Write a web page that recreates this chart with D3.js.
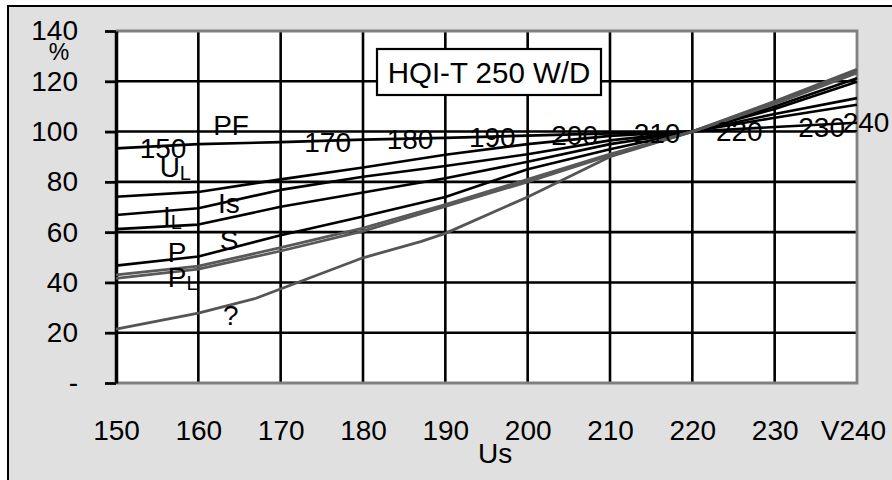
<!DOCTYPE html>
<html>
<head>
<meta charset="utf-8">
<script src="https://cdn.jsdelivr.net/npm/d3@7"></script>
<style>
    body { margin: 0; background: #fff; }
    svg text { font-family: "Liberation Sans", Arial, sans-serif; fill: #000; }
</style>
</head>
<body>
<div id="chart"></div>
<script>
// supply voltage (V) and relative values (%)
const voltages = [150, 160, 170, 180, 190, 200, 210, 220, 230, 240];
const pf = [93.3, 95.0, 95.8, 96.8, 97.5, 98.4, 99.3, 100, 101.8, 103.5];
const uL = [74.1, 76.0, 81.0, 85.7, 90.8, 95.0, 98.3, 100, 105.5, 110.7];
const iS = [66.8, 69.5, 76.8, 82.0, 86.3, 91.0, 96.5, 100, 107.0, 113.3];
const iL = [61.2, 63.0, 70.1, 75.8, 81.4, 88.0, 95.0, 100, 109.0, 119.8];
const sPow = [46.7, 50.3, 58.8, 66.2, 74.0, 85.0, 93.0, 100, 110.0, 121.2];
const pPow = [43.0, 46.5, 53.8, 61.6, 71.0, 81.0, 91.0, 100, 111.5, 124.0];
const pL = [41.6, 45.3, 52.5, 60.4, 70.2, 80.0, 90.5, 100, 111.0, 123.3];
const fluxVoltages = [150, 160, 167, 180, 187, 190, 200, 210, 220, 230, 240];
const flux = [21.4, 27.8, 33.7, 49.8, 56.2, 59.5, 74.0, 90.0, 100, 112.0, 124.8];

const pfLabelVoltages = [150, 170, 180, 190, 200, 210, 220, 230, 240];

const yTicks = [0, 20, 40, 60, 80, 100, 120, 140];
const yTickLabels = ["-", "20", "40", "60", "80", "100", "120", "140"];
const xTickLabels = ["150", "160", "170", "180", "190", "200", "210", "220", "230", "V240"];

// series label anchors, in chart units (V, %)
const seriesLabels = [
    { text: "PF", sub: "", v: 161.8, p: 98.6 },
    { text: "U", sub: "L", v: 155.3, p: 82.0 },
    { text: "Is", sub: "", v: 162.4, p: 67.6 },
    { text: "I", sub: "L", v: 155.7, p: 62.6 },
    { text: "S", sub: "", v: 162.6, p: 52.9 },
    { text: "P", sub: "", v: 156.3, p: 48.1 },
    { text: "P", sub: "L", v: 156.3, p: 38.2 },
    { text: "?", sub: "", v: 163.0, p: 23.1 }
];

const width = 892;
const height = 480;
const plot = { left: 116, right: 857, top: 31, bottom: 383 };

const svg = d3.select("#chart")
    .append("svg")
        .attr("width", width)
        .attr("height", height);

// chart area
svg.append("rect")
    .attr("x", 8).attr("y", 6)
    .attr("width", 900).attr("height", 490)
    .attr("fill", "#e0e0e0")
    .attr("stroke", "#000")
    .attr("stroke-width", 2);

const x = d3.scaleLinear().domain([150, 240]).range([plot.left, plot.right]);
const y = d3.scaleLinear().domain([0, 140]).range([plot.bottom, plot.top]);

svg.append("rect")
    .attr("x", plot.left).attr("y", plot.top)
    .attr("width", plot.right - plot.left)
    .attr("height", plot.bottom - plot.top)
    .attr("fill", "#fff");

// gridlines
const grid = svg.append("g");
grid.selectAll(".hgrid")
    .data(yTicks.slice(1, -1))
    .enter().append("line")
        .attr("x1", plot.left).attr("x2", plot.right)
        .attr("y1", d => y(d)).attr("y2", d => y(d))
        .attr("stroke", "#000")
        .attr("stroke-width", 2.6);

grid.selectAll(".vgrid")
    .data(voltages.slice(1, -1))
    .enter().append("line")
        .attr("x1", d => x(d)).attr("x2", d => x(d))
        .attr("y1", plot.top).attr("y2", plot.bottom)
        .attr("stroke", "#000")
        .attr("stroke-width", 2.6);

// plot border (top, right, bottom)
svg.append("path")
    .attr("d", `M${plot.left},${plot.top}H${plot.right}V${plot.bottom}H${plot.left}`)
    .attr("fill", "none")
    .attr("stroke", "#808080")
    .attr("stroke-width", 2.8);

// y axis
const yAxis = svg.append("g")
    .attr("transform", `translate(${plot.left},0)`)
    .call(d3.axisLeft(y)
        .tickValues(yTicks)
        .tickFormat((d, i) => yTickLabels[i])
        .tickSizeInner(11)
        .tickSizeOuter(0)
        .tickPadding(27));
yAxis.select(".domain").attr("stroke", "#000").attr("stroke-width", 3.5);
yAxis.selectAll(".tick line").attr("stroke", "#000").attr("stroke-width", 2.8);
yAxis.selectAll(".tick text")
    .attr("font-size", 28)
    .attr("font-family", "Liberation Sans, Arial, sans-serif")
    .attr("fill", "#000");

// x axis
const xAxis = svg.append("g")
    .attr("transform", `translate(0,${plot.bottom})`)
    .call(d3.axisBottom(x)
        .tickValues(voltages)
        .tickFormat((d, i) => xTickLabels[i])
        .tickSize(0)
        .tickPadding(37));
xAxis.select(".domain").remove();
xAxis.selectAll(".tick text")
    .attr("font-size", 28)
    .attr("font-family", "Liberation Sans, Arial, sans-serif")
    .attr("fill", "#000")
    .attr("dx", (d, i) => i === voltages.length - 1 ? -4 : 0);

// axis titles
svg.append("text")
    .attr("x", 59).attr("y", 60)
    .attr("text-anchor", "middle")
    .attr("font-size", 23)
    .text("%");

svg.append("text")
    .attr("x", 478).attr("y", 463)
    .attr("font-size", 28)
    .text("Us");

// series
const series = [
    { values: pf, volts: voltages, color: "#000", w: 2.6 },
    { values: uL, volts: voltages, color: "#000", w: 2.6 },
    { values: iS, volts: voltages, color: "#000", w: 2.6 },
    { values: iL, volts: voltages, color: "#000", w: 2.6 },
    { values: sPow, volts: voltages, color: "#000", w: 2.6 },
    { values: pPow, volts: voltages, color: "#595959", w: 2.8 },
    { values: pL, volts: voltages, color: "#595959", w: 2.8 },
    { values: flux, volts: fluxVoltages, color: "#555", w: 2.8 }
];

const line = d3.line()
    .x(d => x(d[0]))
    .y(d => y(d[1]));

svg.append("g")
    .selectAll("path")
    .data(series)
    .enter().append("path")
        .attr("fill", "none")
        .attr("stroke", d => d.color)
        .attr("stroke-width", d => d.w)
        .attr("stroke-linejoin", "round")
        .attr("d", d => line(d.volts.map((v, i) => [v, d.values[i]])));

// PF data labels (voltage values)
svg.append("g")
    .selectAll("text")
    .data(pfLabelVoltages)
    .enter().append("text")
        .attr("x", v => Math.min(x(v) + 47, 866))
        .attr("y", v => y(pf[voltages.indexOf(v)]) + 9.5)
        .attr("text-anchor", "middle")
        .attr("font-size", 28)
        .text(v => v);

// series names
const names = svg.append("g")
    .selectAll("text")
    .data(seriesLabels)
    .enter().append("text")
        .attr("x", d => x(d.v))
        .attr("y", d => y(d.p))
        .attr("font-size", 28);
names.append("tspan").text(d => d.text);
names.filter(d => d.sub)
    .append("tspan")
        .attr("font-size", 20)
        .attr("dy", 3)
        .text(d => d.sub);

// title box
svg.append("rect")
    .attr("x", 377).attr("y", 49)
    .attr("width", 224).attr("height", 46)
    .attr("fill", "#fff")
    .attr("stroke", "#000")
    .attr("stroke-width", 2.2);

svg.append("text")
    .attr("x", 489).attr("y", 83)
    .attr("text-anchor", "middle")
    .attr("font-size", 29.5)
    .text("HQI-T 250 W/D");
</script>
</body>
</html>
